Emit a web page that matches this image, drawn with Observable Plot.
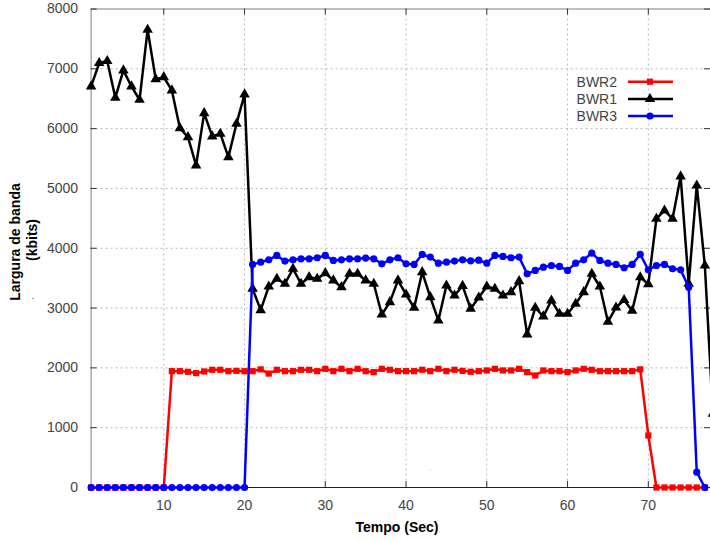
<!DOCTYPE html>
<html><head><meta charset="utf-8">
<script src="https://cdn.jsdelivr.net/npm/d3@7"></script>
<script src="https://cdn.jsdelivr.net/npm/@observablehq/plot@0.6"></script>
<style>html,body{margin:0;padding:0;background:#fff;overflow:hidden}</style>
</head><body><div id="chart"></div>
<script>
const tempo = [1,2,3,4,5,6,7,8,9,10,11,12,13,14,15,16,17,18,19,20,21,22,23,24,25,26,27,28,29,30,31,32,33,34,35,36,37,38,39,40,41,42,43,44,45,46,47,48,49,50,51,52,53,54,55,56,57,58,59,60,61,62,63,64,65,66,67,68,69,70,71,72,73,74,75,76,77,78];
const bwr2 = [0,0,0,0,0,0,0,0,0,0,
  1945,1945,1934,1912,1940,1968,1968,1945,1950,1945,
  1945,1975,1905,1968,1945,1945,1968,1968,1945,1984,
  1945,1984,1945,1984,1945,1929,1984,1968,1945,1945,
  1945,1968,1945,1984,1945,1968,1950,1935,1945,1957,
  1984,1957,1957,1984,1929,1873,1957,1945,1945,1929,
  1957,1984,1968,1945,1945,1945,1945,1945,1975,870,
  0,0,0,0,0,0,0];
const bwr1 = [6706,7096,7130,6517,6973,6706,6483,7654,6828,6861,
  6639,6008,5858,5385,6259,5870,5915,5523,6082,6572,
  3323,2965,3361,3489,3406,3656,3406,3517,3489,3584,
  3462,3350,3573,3573,3462,3406,2893,3099,3462,3227,
  3005,3600,3182,2793,3378,3211,3370,2988,3177,3361,
  3323,3211,3266,3450,2559,3005,2860,3127,2905,2905,
  3072,3266,3573,3361,2770,3010,3135,2955,3515,3400,
  4493,4632,4493,5201,3406,5050,3712,1232];
const bwr3 = [0,0,0,0,0,0,0,0,0,0,0,0,0,0,0,0,0,0,0,0,
  3730,3768,3807,3880,3785,3807,3824,3824,3841,3880,
  3796,3807,3824,3824,3835,3824,3740,3807,3841,3740,
  3729,3896,3852,3751,3768,3785,3807,3790,3800,3751,
  3880,3863,3841,3852,3573,3629,3684,3712,3696,3629,
  3751,3807,3918,3796,3751,3729,3674,3729,3896,3640,
  3712,3729,3657,3640,3350,256,0];
const xTicks = [10,20,30,40,50,60,70];
const yTicks = [0,1000,2000,3000,4000,5000,6000,7000,8000];
const seriesNames = ["BWR2","BWR1","BWR3"];
const seriesColors = ["#ff0000","#000000","#0000ff"];
const seriesSymbols = ["square","triangle","circle"];
const seriesValues = [bwr2, bwr1, bwr3];

const tables = seriesValues.map(vals => vals.map((v, i) => ({t: tempo[i], v})));
const symR = {square: 3.5, triangle: 3.9, circle: 3.6};

const xMin = 1, xMax = 77.7;
const marks = [
  Plot.gridX(xTicks, {stroke: "#b8b8b8", strokeOpacity: 1, strokeDasharray: "2,3"}),
  Plot.gridY(yTicks.slice(1, -1), {stroke: "#b8b8b8", strokeOpacity: 1, strokeDasharray: "2,3"}),
  Plot.frame({stroke: "#808080"}),
  Plot.ruleY([0], {stroke: "#222", strokeWidth: 1}),
  Plot.ruleX(xTicks, {y1: 0, y2: 100, stroke: "#333"}),
  Plot.ruleX(xTicks, {y1: 8000, y2: 7900, stroke: "#333"}),
  Plot.ruleY(yTicks, {x1: xMin, x2: xMin + 0.74, stroke: "#333"}),
  Plot.ruleY(yTicks, {x1: xMax - 0.74, x2: xMax, stroke: "#333"}),
  Plot.axisX({ticks: xTicks, tickFormat: d => String(d), tickSize: 0, tickPadding: 13, fontSize: 14, color: "#444", label: null}),
  Plot.axisY({ticks: yTicks, tickFormat: d => String(d), tickSize: 0, tickPadding: 13, fontSize: 14, color: "#444", label: null})
];
tables.forEach((d, k) => {
  marks.push(Plot.line(d, {x: "t", y: "v", stroke: seriesColors[k], strokeWidth: 2.5}));
  marks.push(Plot.dot(d, {x: "t", y: "v", symbol: seriesSymbols[k], fill: seriesColors[k], r: symR[seriesSymbols[k]]}));
});

const svg = Plot.plot({
  width: 710, height: 540,
  marginLeft: 90.6, marginRight: 0, marginTop: 8.5, marginBottom: 53,
  style: {fontFamily: "'Liberation Sans', Arial, sans-serif", fontSize: "14px", background: "#fff"},
  x: {domain: [xMin, xMax], label: null},
  y: {domain: [0, 8000], label: null},
  marks
});
document.getElementById("chart").appendChild(svg);

const s = d3.select(svg);
const font = "'Liberation Sans', Arial, sans-serif";
s.append("text").attr("x", 397).attr("y", 532).attr("text-anchor", "middle")
  .attr("font-family", font).attr("font-weight", "bold").attr("font-size", 14).attr("fill", "#000")
  .text("Tempo (Sec)");
s.append("text").attr("transform", "translate(20,242) rotate(-90)").attr("text-anchor", "middle")
  .attr("font-family", font).attr("font-weight", "bold").attr("font-size", 14).attr("fill", "#000")
  .text("Largura de banda");
s.append("text").attr("transform", "translate(37,240) rotate(-90)").attr("text-anchor", "middle")
  .attr("font-family", font).attr("font-weight", "bold").attr("font-size", 14).attr("fill", "#000")
  .text("(kbits)");
s.append("text").attr("x", 33).attr("y", 299).attr("text-anchor", "middle")
  .attr("font-family", font).attr("font-size", 10).attr("fill", "#555").text(".");
s.append("text").attr("x", 430).attr("y", 470).attr("text-anchor", "middle")
  .attr("font-family", font).attr("font-size", 8).attr("fill", "#999").text(".");

const legY = [81.7, 99, 116];
const symMap = {square: d3.symbolSquare, triangle: d3.symbolTriangle, circle: d3.symbolCircle};
seriesNames.forEach((name, k) => {
  const g = s.append("g");
  g.append("text").attr("x", 617).attr("y", legY[k]).attr("dy", "0.35em").attr("text-anchor", "end")
    .attr("font-family", font).attr("font-size", 14).attr("fill", "#444").text(name);
  g.append("line").attr("x1", 628).attr("x2", 673).attr("y1", legY[k]).attr("y2", legY[k])
    .attr("stroke", seriesColors[k]).attr("stroke-width", 2.5);
  const r = symR[seriesSymbols[k]];
  g.append("path").attr("transform", `translate(650,${legY[k]})`)
    .attr("d", d3.symbol(symMap[seriesSymbols[k]], Math.PI * r * r)())
    .attr("fill", seriesColors[k]);
});
</script></body></html>
